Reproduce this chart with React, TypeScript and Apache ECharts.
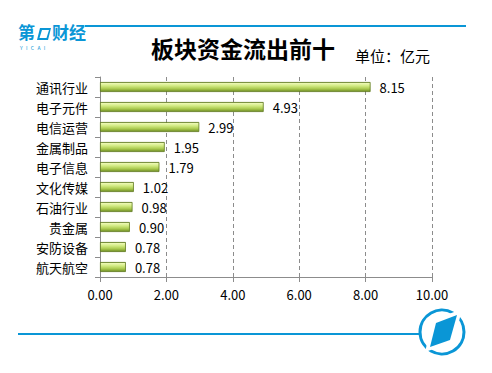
import React, { useEffect, useRef } from "react";
import * as echarts from "echarts";

const categories = ["通讯行业", "电子元件", "电信运营", "金属制品", "电子信息", "文化传媒", "石油行业", "贵金属", "安防设备", "航天航空"];
const values = [8.15, 4.93, 2.99, 1.95, 1.79, 1.02, 0.98, 0.9, 0.78, 0.78];
const titleText = "板块资金流出前十";
const unitText = "单位：亿元";

const BLUE = "#0a96d6";
const FONT = "'Noto Sans CJK SC', 'Noto Sans', sans-serif";

export default function App() {
  const ref = useRef<HTMLDivElement>(null);
  useEffect(() => {
    document.body.style.margin = "0";
    if (!ref.current) return;
    const chart = echarts.init(ref.current, undefined, { renderer: "svg" });
    const barGrad = new echarts.graphic.LinearGradient(0, 0, 0, 1, [
      { offset: 0, color: "#7d9a2c" },
      { offset: 0.12, color: "#eaf7b0" },
      { offset: 0.35, color: "#d4ec86" },
      { offset: 0.7, color: "#a9c94e" },
      { offset: 1, color: "#6d8a24" },
    ]);
    chart.setOption({
      animation: false,
      textStyle: { fontFamily: FONT },
      grid: { left: 100, right: 60, top: 77, bottom: 96, containLabel: false },
      xAxis: {
        type: "value",
        min: 0,
        max: 10,
        interval: 2,
        axisLine: { show: true, lineStyle: { color: "#8c8c8c", width: 1 } },
        axisTick: { show: true, length: 5, lineStyle: { color: "#8c8c8c" } },
        axisLabel: {
          color: "#000",
          fontSize: 13,
          fontFamily: FONT,
          margin: 11,
          formatter: (v: number) => v.toFixed(2),
        },
        splitLine: { show: true, lineStyle: { color: "#8c8c8c", type: [4, 3], width: 1 } },
      },
      yAxis: {
        type: "category",
        data: categories,
        inverse: true,
        axisLine: { show: true, lineStyle: { color: "#8c8c8c", width: 1 } },
        axisTick: { show: true, length: 5, alignWithLabel: false, lineStyle: { color: "#8c8c8c" } },
        axisLabel: { color: "#000", fontSize: 13, fontFamily: FONT, margin: 12 },
        splitLine: { show: false },
      },
      series: [
        {
          type: "bar",
          data: values,
          barWidth: 10,
          itemStyle: { color: barGrad, borderColor: "#5f7a1e", borderWidth: 0.8 },
          label: {
            show: true,
            position: "right",
            distance: 9,
            color: "#000",
            fontSize: 13,
            fontFamily: FONT,
            formatter: (p: any) => Number(p.value).toFixed(2),
          },
        },
      ],
      graphic: [
        { type: "line", shape: { x1: 85, y1: 26, x2: 466, y2: 26 }, style: { stroke: BLUE, lineWidth: 2 } },
        { type: "line", shape: { x1: 18, y1: 334, x2: 420, y2: 334 }, style: { stroke: BLUE, lineWidth: 2 } },
        { type: "text", x: 18, y: 23, style: { text: "第", fill: BLUE, font: `bold 17px ${FONT}`, lineHeight: 17 } },
        {
          type: "polygon",
          shape: { points: [[40, 28], [51, 28], [48, 40], [37, 40]] },
          style: { fill: BLUE },
        },
        { type: "polygon", shape: { points: [[42, 30], [49, 30], [46.5, 38], [39.5, 38]] }, style: { fill: "#fff" } },
        { type: "text", x: 52, y: 23, style: { text: "财经", fill: BLUE, font: `bold 17px ${FONT}`, lineHeight: 17 } },
        { type: "text", x: 20, y: 45, style: { text: "Y   I   C   A   I", fill: BLUE, font: `5px ${FONT}`, lineHeight: 5 } },
        {
          type: "text",
          x: 243,
          y: 48,
          style: { text: titleText, fill: "#000", font: `bold 23px ${FONT}`, align: "center", verticalAlign: "middle" },
        },
        {
          type: "text",
          x: 355,
          y: 55,
          style: { text: unitText, fill: "#000", font: `15px ${FONT}`, align: "left", verticalAlign: "middle" },
        },
        { type: "circle", shape: { cx: 442, cy: 332, r: 22 }, style: { fill: "#fff", stroke: BLUE, lineWidth: 3 } },
        {
          type: "polygon",
          shape: { points: [[433, 320], [462, 309], [454, 342], [425, 352]] },
          style: { fill: "#fff" },
        },
        {
          type: "polygon",
          shape: { points: [[436, 323], [457, 315], [450, 340], [430, 347]] },
          style: { fill: BLUE },
        },
      ],
    });
    return () => chart.dispose();
  }, []);
  return <div ref={ref} style={{ width: 492, height: 373 }} />;
}
